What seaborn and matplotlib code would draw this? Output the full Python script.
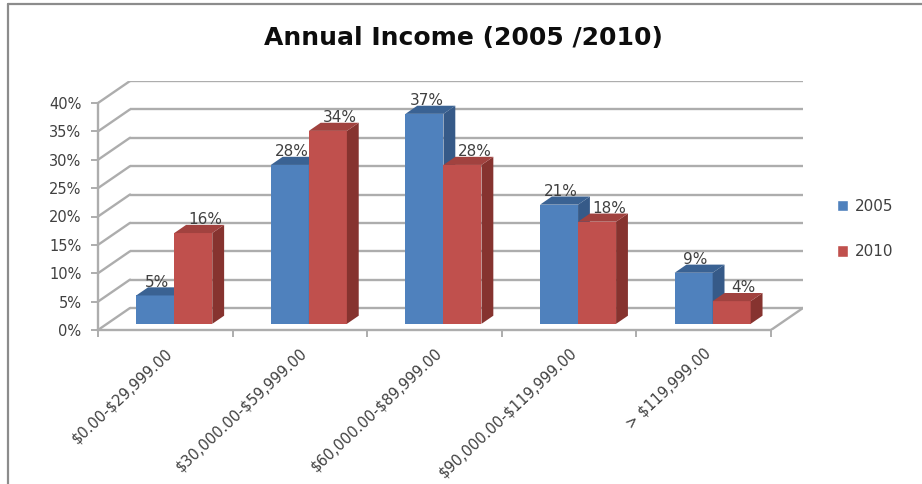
import matplotlib
matplotlib.use("Agg")
import matplotlib.pyplot as plt
from matplotlib.patches import Polygon, Patch
from matplotlib.lines import Line2D
from matplotlib.transforms import offset_copy
import seaborn as sns
import pandas as pd

categories = ["$0.00-$29,999.00", "$30,000.00-$59,999.00", "$60,000.00-$89,999.00",
              "$90,000.00-$119,999.00", "> $119,999.00"]
years = ["2005", "2010"]
values_2005 = [5, 28, 37, 21, 9]
values_2010 = [16, 34, 28, 18, 4]
y_ticks = [0, 5, 10, 15, 20, 25, 30, 35, 40]
title = "Annual Income (2005 /2010)"

df = pd.DataFrame({
    "category": categories * 2,
    "year": [years[0]] * len(categories) + [years[1]] * len(categories),
    "value": values_2005 + values_2010,
})

sns.set_style("white")
plt.rcParams["font.family"] = ["DejaVu Sans"]

W, H, DPI = 922, 484, 100
fig = plt.figure(figsize=(W / DPI, H / DPI), dpi=DPI)

# oblique depth of the 3-D box, in pixels (right, up)
DEPTH = (32.0, 22.0)
F0, F1 = 0.28, 0.65          # front/back depth of the bars as fraction of box depth

# front plane: x from 98 px to 771 px, 0 % at 330 px from top, 40 % at 103 px
x0_px, x1_px = 98, 771
y0_px, y40_px = 330, 103
px_per_cat = (x1_px - x0_px) / len(categories)
px_per_pct = (y0_px - y40_px) / 40.0
dx = DEPTH[0] / px_per_cat
dy = DEPTH[1] / px_per_pct

ax_left = x0_px / W
ax_bottom = (H - y0_px) / H
ax_w = (x1_px + DEPTH[0] - x0_px) / W
ax_h = (y0_px - y40_px + DEPTH[1]) / H
ax = fig.add_axes([ax_left, ax_bottom, ax_w, ax_h])

blue, red = "#4F81BD", "#C0504D"
side_cols = {"2005": "#365A88", "2010": "#86332F"}
top_cols = {"2005": "#3A6293", "2010": "#A1423F"}
label_shift = {"2005": 2, "2010": 12}     # horizontal nudge of value labels, px

sns.barplot(data=df, x="category", y="value", hue="year", palette=[blue, red],
            width=0.565, saturation=1, ax=ax, legend=False, errorbar=None)

xmin, xmax = -0.5, len(categories) - 0.5
ax.set_xlim(xmin, xmax + dx)
ax.set_ylim(0, 40 + dy)

grid_col = "#ADADAD"
# back wall gridlines and the diagonals joining them to the front axis
for v in y_ticks:
    ax.plot([xmin + dx, xmax + dx], [v + dy, v + dy], color=grid_col, lw=1.7,
            zorder=0.5, solid_capstyle="butt")
    ax.plot([xmin, xmin + dx], [v, v + dy], color=grid_col, lw=1.7, zorder=0.5)
# right edge of the floor
ax.plot([xmax, xmax + dx], [0, dy], color=grid_col, lw=1.7, zorder=0.5)

# push bars back into the box and add side and top faces
off0 = (F0 * DEPTH[0], F0 * DEPTH[1])
bdx = (F1 - F0) * dx
bdy = (F1 - F0) * dy
bar_tr = offset_copy(ax.transData, fig=fig, x=off0[0], y=off0[1], units="dots")
for k, (container, yr) in enumerate(zip(ax.containers, years)):
    z = 2 + k
    for bar, val in zip(container.patches, container.datavalues):
        bar.set_transform(bar_tr)
        bar.set_zorder(z)
        bar.set_linewidth(0)
        x = bar.get_x()
        w = bar.get_width()
        h = bar.get_height()
        side = Polygon([(x + w, 0), (x + w + bdx, bdy), (x + w + bdx, h + bdy), (x + w, h)],
                       closed=True, facecolor=side_cols[yr], lw=0, zorder=z + 0.1,
                       transform=bar_tr)
        top = Polygon([(x, h), (x + bdx, h + bdy), (x + w + bdx, h + bdy), (x + w, h)],
                      closed=True, facecolor=top_cols[yr], lw=0, zorder=z + 0.1,
                      transform=bar_tr)
        ax.add_patch(side)
        ax.add_patch(top)
        ax.annotate(f"{val:.0f}%", (x + w / 2, h),
                    xytext=(off0[0] + label_shift[yr], 12), textcoords="offset pixels",
                    ha="center", va="bottom", fontsize=11, color="#404040", zorder=5)

# axes styling
for s in ["top", "right"]:
    ax.spines[s].set_visible(False)
for s in ["left", "bottom"]:
    ax.spines[s].set_color(grid_col)
    ax.spines[s].set_linewidth(1.7)
ax.spines["left"].set_bounds(0, 40)
ax.spines["bottom"].set_bounds(xmin, xmax)

ax.set_yticks(y_ticks)
ax.set_yticklabels([f"{v}%" for v in y_ticks])
ax.tick_params(axis="y", length=5, width=1.4, color=grid_col, labelsize=10.5,
               labelcolor="#404040", pad=7, left=True)
ax.set_xticks(range(len(categories)))
ax.set_xticklabels(categories, rotation=43, ha="right", rotation_mode="anchor")
for lab in ax.get_xticklabels():
    lab.set_parse_math(False)
ax.set_xticks([xmin + i for i in range(len(categories) + 1)], minor=True)
ax.tick_params(axis="x", which="major", length=0, labelsize=10.5, labelcolor="#404040", pad=11)
ax.tick_params(axis="x", which="minor", length=5, width=1.4, color=grid_col, bottom=True)
ax.set_xlabel("")
ax.set_ylabel("")
ax.patch.set_alpha(0)

fig.text(463 / W, 1 - 38 / H, title, ha="center", va="center", fontsize=18,
         fontweight="bold", color="#0d0d0d")

handles = [Patch(facecolor=blue, label=years[0]), Patch(facecolor=red, label=years[1])]
fig.legend(handles=handles, loc="center left", bbox_to_anchor=(837 / W, 1 - 229 / H),
           frameon=False, handlelength=0.75, handleheight=0.75, handletextpad=0.4,
           labelspacing=2.0, borderpad=0, borderaxespad=0, fontsize=11,
           labelcolor="#404040")

# outer frame of the chart area
frame_col = "#8C8C8C"
fig.add_artist(Line2D([8 / W, 8 / W], [0, 1 - 4 / H], transform=fig.transFigure,
                      color=frame_col, lw=1.6))
fig.add_artist(Line2D([8 / W, 1], [1 - 4 / H, 1 - 4 / H], transform=fig.transFigure,
                      color=frame_col, lw=1.6))

fig.savefig("out.png", dpi=DPI, facecolor="white")
